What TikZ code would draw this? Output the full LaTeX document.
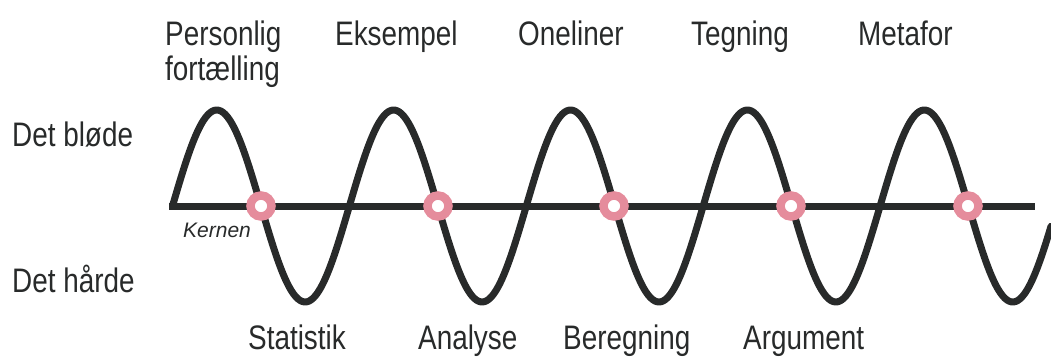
\documentclass[tikz,border=0pt]{standalone}
\usepackage{fontspec}
\setmainfont{Liberation Sans}[FakeStretch=0.82]
\newfontfamily\plainsans{Liberation Sans}
\definecolor{ink}{RGB}{40,42,42}
\definecolor{rose}{RGB}{229,140,156}
\tikzset{
  lbl/.style={anchor=base west, inner sep=0pt, font=\fontsize{34}{36}\selectfont, text=ink},
  ring/.style={circle, draw=rose, line width=8.5pt, fill=white, minimum size=21pt, inner sep=0pt},
  wave/.style={draw=ink, line width=7pt, line cap=round, line join=round}
}
\begin{document}
\begin{tikzpicture}[x=1pt, y=-1pt]
\useasboundingbox (0,0) rectangle (1051,358);
% axis
\coordinate (a0) at (169,206);
\coordinate (a1) at (1035,206);
\draw[wave, line cap=butt] (a0) -- (a1);
% wave
\draw[wave] plot[domain=172.5:1051, samples=400, smooth] (\x, {206-96*sin((\x-172.5)*2.03505)});
% rings
\foreach \i/\xx in {1/261,2/438,3/614,4/791,5/968}{
  \node[ring] (r\i) at (\xx,206) {};
}
% labels
\node[lbl] (personlig) at (165,46) {Personlig};
\node[lbl] (fort) at (165,81) {fortælling};
\node[lbl] (eks) at (335,46) {Eksempel};
\node[lbl] (one) at (518,46) {Oneliner};
\node[lbl] (teg) at (691,46) {Tegning};
\node[lbl] (meta) at (858,46) {Metafor};
\node[lbl] (blod) at (12,147) {Det bløde};
\node[lbl] (hard) at (12,292) {Det hårde};
\node[lbl] (stat) at (248,349) {Statistik};
\node[lbl] (ana) at (418,349) {Analyse};
\node[lbl] (ber) at (563,349) {Beregning};
\node[lbl] (arg) at (743,349) {Argument};
\node[anchor=base west, inner sep=0pt, font=\plainsans\itshape\fontsize{21}{24}\selectfont, text=ink] (kern) at (183,237) {Kernen};
\end{tikzpicture}
\end{document}
